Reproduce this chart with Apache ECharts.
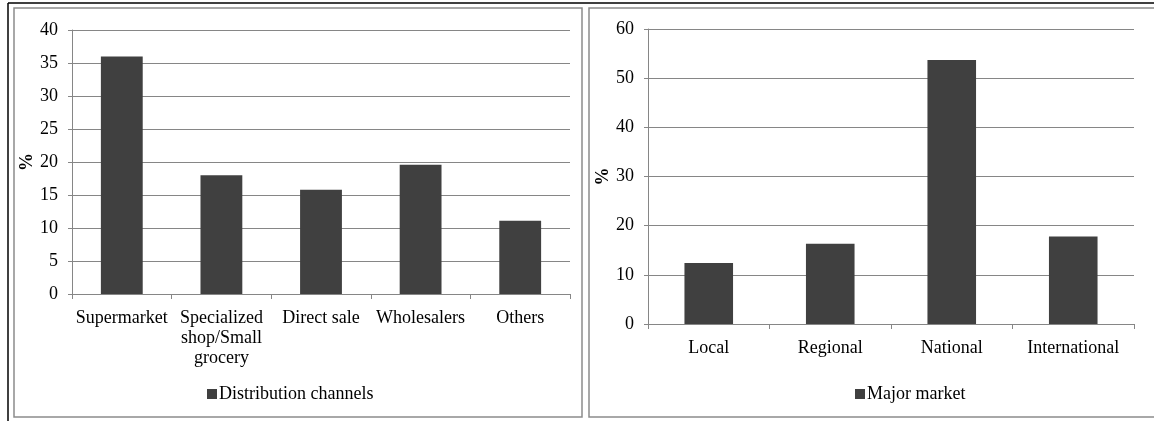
<!DOCTYPE html>
<html>
<head>
<meta charset="utf-8">
<script src="https://cdn.jsdelivr.net/npm/echarts@6/dist/echarts.min.js"></script>
<style>
html,body{margin:0;padding:0;background:#fff;}
#c{width:1154px;height:421px;}
</style>
</head>
<body>
<div id="c"></div>
<script>
const channelCategories = ['Supermarket', 'Specialized\nshop/Small\ngrocery', 'Direct sale', 'Wholesalers', 'Others'];
const channelValues = [36, 18, 15.8, 19.6, 11.1];
const channelTicks = [0, 5, 10, 15, 20, 25, 30, 35, 40];

const marketCategories = ['Local', 'Regional', 'National', 'International'];
const marketValues = [12.4, 16.3, 53.7, 17.8];
const marketTicks = [0, 10, 20, 30, 40, 50, 60];

const FONT = 'Liberation Serif';
const FS = 18;
const GRID = '#868686';
const BAR = '#404040';

const chart = echarts.init(document.getElementById('c'), null, {renderer: 'canvas'});

function yAxis(idx, ticks) {
  return {
    type: 'value', gridIndex: idx,
    min: ticks[0], max: ticks[ticks.length - 1], interval: ticks[1] - ticks[0],
    name: '%', nameLocation: 'middle', nameGap: idx === 0 ? 27 : 32, nameRotate: 90,
    nameTextStyle: {fontFamily: FONT, fontSize: FS, fontWeight: 'bold', color: '#000'},
    axisLine: {show: true, lineStyle: {color: GRID, width: 1}},
    axisTick: {show: true, length: 4, lineStyle: {color: GRID}},
    axisLabel: {fontFamily: FONT, fontSize: FS, color: '#000', margin: 14},
    splitLine: {show: true, lineStyle: {color: GRID, width: 1}}
  };
}
function xAxis(idx, cats) {
  return {
    type: 'category', gridIndex: idx, data: cats,
    axisLine: {show: true, lineStyle: {color: GRID, width: 1}},
    axisTick: {show: true, length: 5, alignWithLabel: false, lineStyle: {color: GRID}},
    axisLabel: {fontFamily: FONT, fontSize: FS, color: '#000', margin: 14, lineHeight: 20, interval: 0}
  };
}

chart.setOption({
  animation: false,
  backgroundColor: '#fff',
  grid: [
    {left: 72, right: 584, top: 30, bottom: 127},
    {left: 648, right: 20, top: 29, bottom: 97}
  ],
  xAxis: [xAxis(0, channelCategories), xAxis(1, marketCategories)],
  yAxis: [yAxis(0, channelTicks), yAxis(1, marketTicks)],
  legend: [
    {data: ['Distribution channels'], left: 202, top: 380, itemWidth: 10, itemHeight: 10, itemGap: 4,
     icon: 'rect', textStyle: {fontFamily: FONT, fontSize: FS, color: '#000', padding: [0,0,0,-3]}},
    {data: ['Major market'], left: 850, top: 380, itemWidth: 10, itemHeight: 10, itemGap: 4,
     icon: 'rect', textStyle: {fontFamily: FONT, fontSize: FS, color: '#000', padding: [0,0,0,-3]}}
  ],
  series: [
    {name: 'Distribution channels', type: 'bar', xAxisIndex: 0, yAxisIndex: 0, data: channelValues,
     barCategoryGap: '58%', itemStyle: {color: BAR}},
    {name: 'Major market', type: 'bar', xAxisIndex: 1, yAxisIndex: 1, data: marketValues,
     barCategoryGap: '60%', itemStyle: {color: BAR}}
  ],
  graphic: [
    {type: 'rect', shape: {x: 14, y: 8, width: 568, height: 409}, style: {fill: 'none', stroke: '#8c8c8c', lineWidth: 1.5}, silent: true},
    {type: 'rect', shape: {x: 589, y: 8, width: 580, height: 409}, style: {fill: 'none', stroke: '#8c8c8c', lineWidth: 1.5}, silent: true},
    {type: 'line', shape: {x1: 8, y1: 3, x2: 1154, y2: 3}, style: {stroke: '#000', lineWidth: 1.5}, silent: true},
    {type: 'line', shape: {x1: 8, y1: 3, x2: 8, y2: 421}, style: {stroke: '#000', lineWidth: 1.5}, silent: true}
  ]
});
</script>
</body>
</html>
